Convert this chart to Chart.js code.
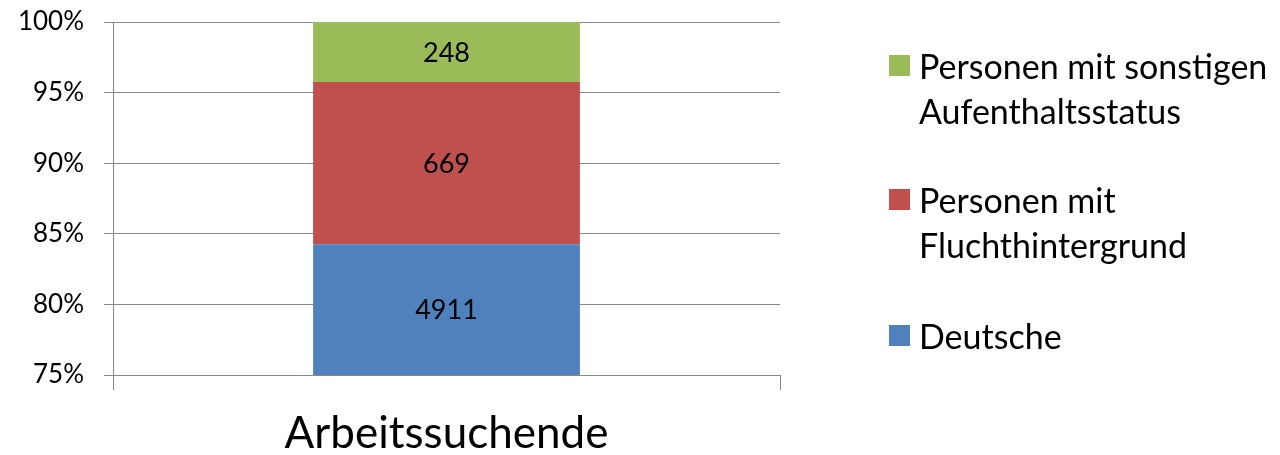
<!DOCTYPE html>
<html>
<head>
<meta charset="utf-8">
<script src="https://cdn.jsdelivr.net/npm/chart.js@4/dist/chart.umd.min.js"></script>
<style>
  html, body { margin: 0; padding: 0; background: #fff; }
  #wrap { position: relative; width: 1280px; height: 455px; }
  #legend { position: absolute; left: 0; top: 0; font-family: Lato, sans-serif; color: #000; }
  .item { position: absolute; left: 889px; }
  .box { position: absolute; left: 0; top: 12px; width: 21px; height: 21px; }
  .txt { position: absolute; left: 30px; font-size: 34px; line-height: 45px; white-space: pre; }
</style>
</head>
<body>
<div id="wrap">
  <canvas id="chart" width="1280" height="455"></canvas>
  <div id="legend"></div>
</div>
<script>
const categories = ['Arbeitssuchende'];
const seriesNames = ['Deutsche', 'Personen mit\nFluchthintergrund', 'Personen mit sonstigen\nAufenthaltsstatus'];
const deutsche = [4911];
const flucht = [669];
const sonstige = [248];
const colors = ['#4F81BD', '#C0504D', '#9BBB59'];
const yMin = 75, yMax = 100, yStep = 5;

const series = [deutsche, flucht, sonstige];
const totals = categories.map((c, i) => series.reduce((s, arr) => s + arr[i], 0));

// draw the counts in the middle of the visible part of each segment
const valueLabels = {
    id: 'valueLabels',
    afterDatasetsDraw(chart) {
        const ctx = chart.ctx;
        const area = chart.chartArea;
        ctx.save();
        ctx.font = '27px Lato';
        ctx.fillStyle = '#000';
        ctx.textAlign = 'center';
        ctx.textBaseline = 'middle';
        chart.data.datasets.forEach((ds, di) => {
            chart.getDatasetMeta(di).data.forEach((bar, i) => {
                const top = Math.max(Math.min(bar.y, bar.base), area.top);
                const bottom = Math.min(Math.max(bar.y, bar.base), area.bottom);
                if (bottom <= top) return;
                ctx.fillText(String(series[di][i]), bar.x, (top + bottom) / 2 + 1);
            });
        });
        ctx.restore();
    }
};

const ctx = document.getElementById('chart').getContext('2d');
const chart = new Chart(ctx, {
    type: 'bar',
    data: {
        labels: categories,
        datasets: series.map((arr, i) => ({
            label: seriesNames[i].replace('\n', ' '),
            data: arr.map((v, j) => v / totals[j] * 100),
            backgroundColor: colors[i],
            borderWidth: 0,
            categoryPercentage: 1,
            barPercentage: 0.4
        }))
    },
    options: {
        responsive: false,
        animation: false,
        layout: { padding: { left: 0, top: 22, right: 500, bottom: 0 } },
        plugins: { legend: { display: false }, tooltip: { enabled: false } },
        scales: {
            x: {
                stacked: true,
                afterFit: (s) => { s.height = 80; },
                grid: { drawOnChartArea: false, tickLength: 15, color: '#888', lineWidth: 1 },
                border: { display: true, color: '#888', width: 1 },
                ticks: { font: { family: 'Lato', size: 44 }, color: '#000', padding: 17 }
            },
            y: {
                stacked: true,
                min: yMin,
                max: yMax,
                afterFit: (s) => {
                    s.width = 113;
                    s.paddingTop = 0;
                    s.paddingBottom = 0;
                },
                grid: { tickLength: 9, color: '#888', lineWidth: 1 },
                border: { display: true, color: '#888', width: 1 },
                ticks: {
                    stepSize: yStep,
                    padding: 20,
                    font: { family: 'Lato', size: 26 },
                    color: '#000',
                    callback: (v) => v + '%'
                }
            }
        }
    },
    plugins: [valueLabels]
});

// legend, top entry is the last series
const legendTops = [313, 177, 43];
const legend = document.getElementById('legend');
seriesNames.forEach((name, i) => {
    const item = document.createElement('div');
    item.className = 'item';
    item.style.top = legendTops[i] + 'px';
    const box = document.createElement('div');
    box.className = 'box';
    box.style.background = colors[i];
    const txt = document.createElement('div');
    txt.className = 'txt';
    txt.textContent = name;
    item.appendChild(box);
    item.appendChild(txt);
    legend.appendChild(item);
});
</script>
</body>
</html>
